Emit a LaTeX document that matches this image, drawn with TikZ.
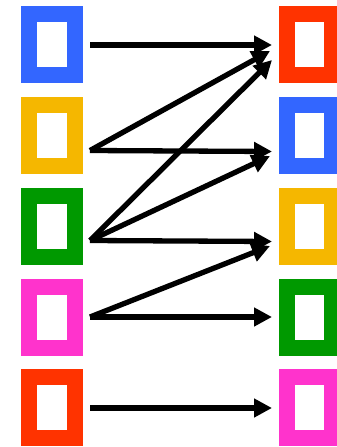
\documentclass[tikz,border=0pt]{standalone}
\usetikzlibrary{arrows.meta}
\definecolor{cblue}{HTML}{3366FF}
\definecolor{cyellow}{HTML}{F5B700}
\definecolor{cgreen}{HTML}{009900}
\definecolor{cpink}{HTML}{FF33CC}
\definecolor{cred}{HTML}{FF3300}
\begin{document}
\begin{tikzpicture}[x=1pt,y=-1pt,
  box/.style={draw=#1, line width=15.8pt, fill=white, inner sep=0pt, outer sep=0pt,
    minimum width=45.6pt, minimum height=61pt, rectangle},
  conn/.style={line width=5.3pt, -{Triangle[length=18pt,width=18pt]}}]
\useasboundingbox (0,0) rectangle (337,447);
% left column
\node[box=cblue]   (L1) at (52,44.6) {};
\node[box=cyellow] (L2) at (52,135.3) {};
\node[box=cgreen]  (L3) at (52,226.2) {};
\node[box=cpink]   (L4) at (52,317.2) {};
\node[box=cred]    (L5) at (52,407.7) {};
% right column
\node[box=cred]    (R1) at (309.4,44.6) {};
\node[box=cblue]   (R2) at (309.4,135.3) {};
\node[box=cyellow] (R3) at (309.4,226.2) {};
\node[box=cgreen]  (R4) at (309.4,317.2) {};
\node[box=cpink]   (R5) at (309.4,407.7) {};
% connector ends
\coordinate (s1) at (90,45);
\coordinate (s2) at (90,150.5);
\coordinate (s3) at (90,240.5);
\coordinate (s4) at (90,317);
\coordinate (s5) at (90,408);
\coordinate (t1) at (272,45);
\coordinate (t1b) at (270,51);
\coordinate (t1c) at (272,60);
\coordinate (t2) at (272,151.5);
\coordinate (t2b) at (270,156);
\coordinate (t3) at (272,241.5);
\coordinate (t3b) at (270,246);
\coordinate (t4) at (272,317);
\coordinate (t5) at (272,408);
\draw[conn] (s1) -- (t1);
\draw[conn] (s2) -- (t1b);
\draw[conn] (s2) -- (t2);
\draw[conn] (s3) -- (t1c);
\draw[conn] (s3) -- (t2b);
\draw[conn] (s3) -- (t3);
\draw[conn] (s4) -- (t3b);
\draw[conn] (s4) -- (t4);
\draw[conn] (s5) -- (t5);
\end{tikzpicture}
\end{document}
